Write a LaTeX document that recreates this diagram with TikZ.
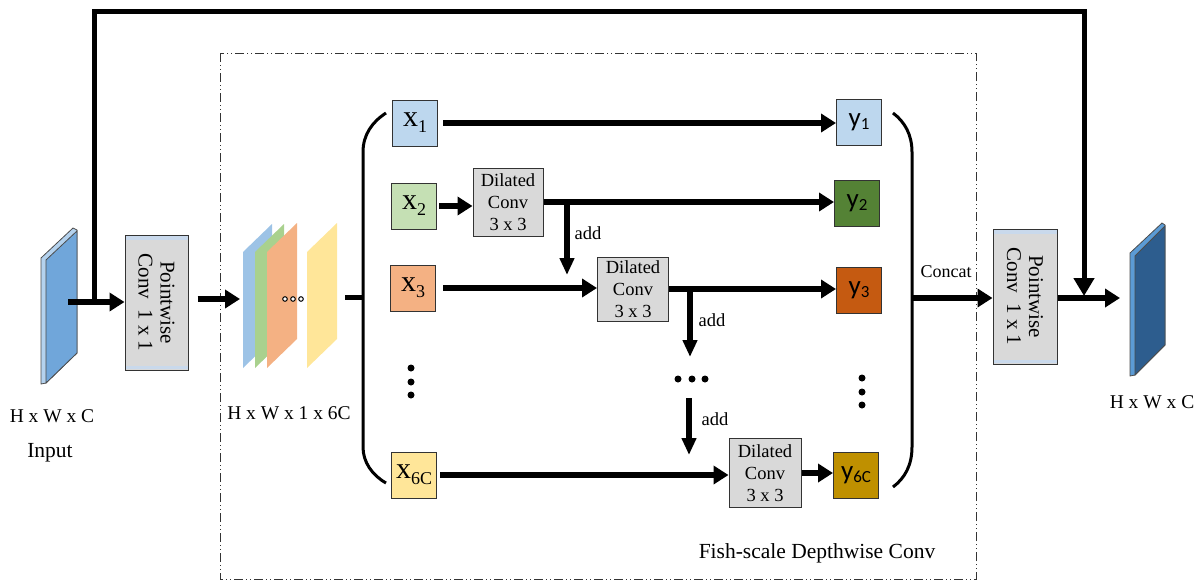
\documentclass[tikz,border=0pt]{standalone}
\usepackage{fontspec}
\setmainfont{Liberation Serif}
\newfontfamily\calfont{Carlito}
\usetikzlibrary{arrows.meta}

\definecolor{xa}{HTML}{BDD7EE}
\definecolor{xb}{HTML}{C5E0B4}
\definecolor{xc}{HTML}{F4B183}
\definecolor{xd}{HTML}{FFE699}
\definecolor{ya}{HTML}{BDD7EE}
\definecolor{yb}{HTML}{548235}
\definecolor{yc}{HTML}{C55A11}
\definecolor{yd}{HTML}{BF9000}
\definecolor{convgray}{HTML}{D9D9D9}
\definecolor{glow}{HTML}{C9D9EC}
\definecolor{pa}{HTML}{9DC3E6}
\definecolor{pb}{HTML}{A9D18E}
\definecolor{pc}{HTML}{F4B183}
\definecolor{pd}{HTML}{FFE699}
\definecolor{inface}{HTML}{70A6DA}
\definecolor{inedge}{HTML}{B4D2EE}
\definecolor{outface}{HTML}{2D5D8E}
\definecolor{outedge}{HTML}{5B9BD5}
\definecolor{framegray}{HTML}{333333}

% label helpers
\newcommand{\xlab}[1]{{\fontsize{30}{30}\selectfont x\raisebox{-6pt}{\fontsize{18}{18}\selectfont #1}}}
\newcommand{\ylab}[1]{{\calfont\fontsize{27}{27}\selectfont y\raisebox{-3pt}{\fontsize{17}{17}\selectfont #1}}}

\begin{document}
\begin{tikzpicture}[x=1pt,y=-1pt,
  flow/.style={line width=6.5pt,-{Triangle[length=15pt,width=18pt]}},
  plainline/.style={line width=5pt},
  addarrow/.style={line width=5.5pt,-{Triangle[length=17pt,width=14pt]}},
  skipline/.style={line width=5pt,line join=miter,-{Triangle[length=18pt,width=20pt]}},
  xbox/.style={draw=black!80,line width=1pt,minimum width=45pt,minimum height=46pt,inner sep=0pt},
  dconv/.style={draw=black!80,fill=convgray,line width=1pt,minimum width=71pt,minimum height=66pt,inner sep=0pt,align=center,font=\fontsize{18.5}{22}\selectfont},
  pwbox/.style={draw=black!80,fill=convgray,line width=1pt,minimum width=63pt,minimum height=135pt,inner sep=0pt},
  pwtext/.style={rotate=-90,align=center,font=\fontsize{21}{22}\selectfont},
  bracket/.style={line width=3pt},
  dashbox/.style={draw=framegray,line width=1pt,dash pattern=on 9pt off 3pt on 1pt off 3pt on 1pt off 3pt},
  lab/.style={font=\fontsize{19.5}{22}\selectfont},
  addlab/.style={font=\fontsize{18.5}{20}\selectfont,anchor=west}
]
\useasboundingbox (0,0) rectangle (1200,582);

% frame of the depthwise block
\draw[dashbox] (220,53) rectangle (976,579);
\node[font=\fontsize{21.5}{24}\selectfont] (fishlab) at (817,553) {Fish-scale Depthwise Conv};

% input feature map
\filldraw[fill=inedge,draw=black!70,line width=0.8pt] (41,258) -- (73,228) -- (77,230) -- (77,353) -- (46,383) -- (41,384) -- cycle;
\filldraw[fill=inface,draw=black!70,line width=0.8pt] (46,260) -- (77,231) -- (77,353) -- (46,383) -- cycle;
\coordinate (inS) at (68,302);
\node[lab] (inlab) at (52,416) {H x W x C};
\node[font=\fontsize{21.5}{24}\selectfont] (inname) at (50,453) {Input};

% first pointwise convolution
\node[pwbox] (pw1) at (156.5,302.5) {};
\fill[glow] ([xshift=1pt,yshift=-1.5pt]pw1.north west) rectangle ([xshift=-1pt,yshift=-5pt]pw1.north east);
\fill[glow] ([xshift=1pt,yshift=1.5pt]pw1.south west) rectangle ([xshift=-1pt,yshift=5pt]pw1.south east);
\node[pwtext] (pw1t) at (pw1.center) {Pointwise\\Conv~ 1 x 1};

% second pointwise convolution
\node[pwbox,minimum width=64pt] (pw2) at (1025,296.5) {};
\fill[glow] ([xshift=1pt,yshift=-1.5pt]pw2.north west) rectangle ([xshift=-1pt,yshift=-5pt]pw2.north east);
\fill[glow] ([xshift=1pt,yshift=1.5pt]pw2.south west) rectangle ([xshift=-1pt,yshift=5pt]pw2.south east);
\node[pwtext] (pw2t) at (pw2.center) {Pointwise\\Conv~ 1 x 1};
\node[font=\fontsize{18}{20}\selectfont] (concat) at (946,272) {Concat};

% stacked channel slices
\fill[pa] (243,368) -- (243,252) -- (272,224) -- (272,340) -- cycle;
\fill[pb] (255,368) -- (255,252) -- (284,224) -- (284,340) -- cycle;
\fill[pc] (267,368) -- (267,252) -- (297,223) -- (297,339) -- cycle;
\fill[pd] (307,368) -- (307,252) -- (337,223) -- (337,339) -- cycle;
\foreach \cx in {285,293,301}
  \filldraw[fill=white,draw=black,line width=1pt] (\cx,299) circle (2.3);
\coordinate (stk) at (240,299);
\coordinate (stkR) at (345,297);
\node[lab] (stklab) at (289,413) {H x W x 1 x 6C};

% brackets around the branches
\draw[bracket] (386,113) .. controls (372,122) and (363,135) .. (363,152) -- (363,447) .. controls (363,462) and (372,475) .. (386,483);
\draw[bracket] (893,113) .. controls (905,122) and (912,135) .. (912,152) -- (912,447) .. controls (912,465) and (905,478) .. (893,487);
\coordinate (lbr) at (363,297);
\coordinate (rbr) at (912,298);

% input splits
\node[xbox,fill=xa] (x1) at (415,123) {\xlab{1}};
\node[xbox,fill=xb] (x2) at (414,206) {\xlab{2}};
\node[xbox,fill=xc] (x3) at (413,288) {\xlab{3}};
\node[xbox,fill=xd] (x6) at (414,475) {\xlab{6C}};
\foreach \cy in {368,382,395} \fill (411,\cy) circle (3.5);

% outputs
\node[xbox,fill=ya] (y1) at (859,122) {\ylab{1}};
\node[xbox,fill=yb] (y2) at (857,203) {\ylab{2}};
\node[xbox,fill=yc] (y3) at (859,290) {\ylab{3}};
\node[xbox,fill=yd] (y6) at (856,475) {\ylab{6C}};
\foreach \cy in {378,392,405} \fill (862,\cy) circle (3.5);

% dilated convolutions
\node[dconv,minimum width=70pt,minimum height=68pt] (dc1) at (508,202) {Dilated\\Conv\\3 x 3};
\node[dconv,minimum height=64pt] (dc2) at (633,289) {Dilated\\Conv\\3 x 3};
\node[dconv,minimum width=72pt,minimum height=69pt] (dc3) at (765,473) {Dilated\\Conv\\3 x 3};

% branch arrows
\draw[flow] ([xshift=5pt]x1.east) -- (x1.east -| y1.west);
\draw[flow] ([xshift=2pt]x2.east) -- (x2.east -| dc1.west);
\draw[flow] (dc1.east) -- (dc1.east -| y2.west);
\draw[flow] ([xshift=7pt]x3.east) -- (x3.east -| dc2.west);
\draw[flow] (dc2.east) -- (dc2.east -| y3.west);
\draw[flow] ([xshift=3pt]x6.east) -- (x6.east -| dc3.west);
\draw[flow] (dc3.east) -- (dc3.east -| y6.west);

% residual additions
\coordinate (a1s) at (567,202);
\coordinate (a1e) at (567,275);
\draw[addarrow] (a1s) -- (a1e);
\node[addlab] (a1l) at (571,233) {add};
\coordinate (a2s) at (690,289);
\coordinate (a2e) at (690,357);
\draw[addarrow] (a2s) -- (a2e);
\node[addlab] (a2l) at (695,320) {add};
\foreach \cx in {678,692,705} \fill (\cx,379) circle (3.5);
\coordinate (a3s) at (689,398);
\coordinate (a3e) at (689,455);
\draw[addarrow] (a3s) -- (a3e);
\node[addlab] (a3l) at (698,419) {add};

% into and out of the block
\draw[flow] (inS) -- (inS -| pw1.west);
\draw[flow] ([xshift=9pt]pw1.east |- stk) -- (stk);
\draw[plainline] (stkR) -- (lbr);
\draw[flow] (rbr) -- (rbr -| pw2.west);

% output feature map
\filldraw[fill=outedge,draw=black!70,line width=0.8pt] (1130,253) -- (1162,223) -- (1165,225) -- (1165,345) -- (1135,375) -- (1130,376) -- cycle;
\filldraw[fill=outface,draw=black!70,line width=0.8pt] (1135,256) -- (1165,226) -- (1165,345) -- (1135,375) -- cycle;
\coordinate (outS) at (1120,298);
\draw[flow] (pw2.east |- outS) -- (outS);
\node[lab] (outlab) at (1152,402) {H x W x C};

% skip connection
\coordinate (sk1) at (94,302);
\coordinate (sk2) at (1084,296);
\draw[skipline] (sk1) -- (sk1 |- 0,11) -- (sk2 |- 0,11) -- (sk2);
\end{tikzpicture}
\end{document}
